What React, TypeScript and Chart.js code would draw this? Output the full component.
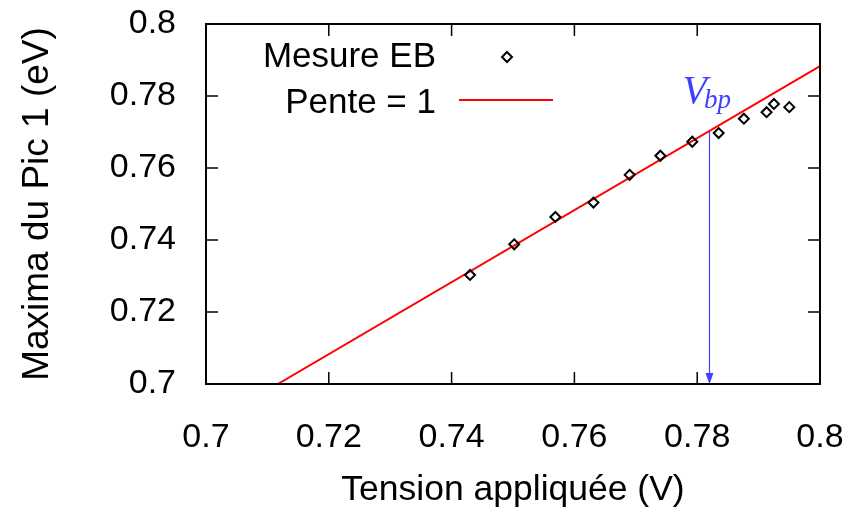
import React, { useEffect, useRef } from 'react';
import { Chart, registerables } from 'chart.js';

Chart.register(...registerables);

// ---- data ----
const measureX = [0.743, 0.7502, 0.7569, 0.7631, 0.769, 0.774, 0.7792, 0.7835, 0.7876, 0.7913, 0.7925, 0.795];
const measureY = [0.7303, 0.7388, 0.7464, 0.7504, 0.7581, 0.7634, 0.7673, 0.7697, 0.7737, 0.7755, 0.7778, 0.7769];
const fitX = [0.7117, 0.8];
const fitY = [0.7, 0.7883];
const vbpX = [0.782, 0.782];
const vbpY = [0.7703, 0.7];
const xTicks = [0.7, 0.72, 0.74, 0.76, 0.78, 0.8];
const xTickLabels = ['0.7', '0.72', '0.74', '0.76', '0.78', '0.8'];
const yTicks = [0.7, 0.72, 0.74, 0.76, 0.78, 0.8];
const yTickLabels = ['0.7', '0.72', '0.74', '0.76', '0.78', '0.8'];
const seriesLabels = ['Mesure EB', 'Pente = 1'];
const xTitle = 'Tension appliquée (V)';
const yTitle = 'Maxima du Pic 1 (eV)';
const vbpMain = 'V';
const vbpSub = 'bp';

const FONT = '"Liberation Sans", Arial, sans-serif';
const BLUE = '#4040ff';
const RED = '#ff0000';

function drawDiamond(ctx: CanvasRenderingContext2D, x: number, y: number, r: number) {
  ctx.beginPath();
  ctx.moveTo(x, y - r);
  ctx.lineTo(x + r, y);
  ctx.lineTo(x, y + r);
  ctx.lineTo(x - r, y);
  ctx.closePath();
  ctx.stroke();
}

const framePlugin = {
  id: 'frame',
  afterDatasetsDraw(chart: any) {
    const { ctx, chartArea: a, scales } = chart;
    const xs = scales.x;
    const ys = scales.y;
    ctx.save();
    ctx.strokeStyle = '#000';
    ctx.lineWidth = 1.5;
    const tl = 12;
    ctx.beginPath();
    xTicks.forEach((v) => {
      const px = xs.getPixelForValue(v);
      ctx.moveTo(px, a.bottom);
      ctx.lineTo(px, a.bottom - tl);
      ctx.moveTo(px, a.top);
      ctx.lineTo(px, a.top + tl);
    });
    yTicks.forEach((v) => {
      const py = ys.getPixelForValue(v);
      ctx.moveTo(a.left, py);
      ctx.lineTo(a.left + tl, py);
      ctx.moveTo(a.right, py);
      ctx.lineTo(a.right - tl, py);
    });
    ctx.stroke();
    ctx.lineWidth = 2;
    ctx.strokeRect(a.left, a.top, a.right - a.left, a.bottom - a.top);

    // arrow head
    const ax = xs.getPixelForValue(vbpX[1]);
    const ay = ys.getPixelForValue(vbpY[1]);
    ctx.fillStyle = BLUE;
    ctx.beginPath();
    ctx.moveTo(ax, ay);
    ctx.lineTo(ax - 4, ay - 11);
    ctx.lineTo(ax + 4, ay - 11);
    ctx.closePath();
    ctx.fill();

    // V_bp label
    const topY = ys.getPixelForValue(vbpY[0]);
    ctx.textAlign = 'left';
    ctx.textBaseline = 'alphabetic';
    ctx.font = 'italic 40px "Liberation Serif", serif';
    const vx = ax - 27;
    ctx.fillText(vbpMain, vx, topY - 28);
    const vw = ctx.measureText(vbpMain).width;
    ctx.font = 'italic 27px "Liberation Serif", serif';
    ctx.fillText(vbpSub, vx + vw - 3, topY - 23);

    // legend
    ctx.font = `35px ${FONT}`;
    ctx.fillStyle = '#000';
    ctx.textAlign = 'right';
    ctx.textBaseline = 'middle';
    const tx = a.left + 230;
    const y1 = a.top + 33;
    const y2 = a.top + 79;
    ctx.fillText(seriesLabels[0], tx, y1);
    ctx.fillText(seriesLabels[1], tx, y2);
    ctx.strokeStyle = '#000';
    ctx.lineWidth = 2;
    drawDiamond(ctx, a.left + 301, y1, 5);
    ctx.strokeStyle = RED;
    ctx.lineWidth = 2;
    ctx.beginPath();
    ctx.moveTo(a.left + 253, y2 - 3);
    ctx.lineTo(a.left + 347, y2 - 3);
    ctx.stroke();
    ctx.restore();
  },
};

function zeroPad(s: any) {
  s.paddingLeft = 0;
  s.paddingRight = 0;
  s.paddingTop = 0;
  s.paddingBottom = 0;
}

export default function App() {
  const ref = useRef<HTMLCanvasElement | null>(null);
  useEffect(() => {
    document.body.style.margin = '0';
    const canvas = ref.current;
    if (!canvas) return;
    const chart = new Chart(canvas, {
      type: 'scatter',
      data: {
        datasets: [
          {
            label: seriesLabels[0],
            data: measureX.map((x, i) => ({ x, y: measureY[i] })),
            pointStyle: 'rectRot',
            pointRadius: 5,
            pointBorderWidth: 2,
            borderColor: '#000',
            backgroundColor: 'rgba(0,0,0,0)',
            showLine: false,
            order: 1,
          },
          {
            label: seriesLabels[1],
            data: fitX.map((x, i) => ({ x, y: fitY[i] })),
            showLine: true,
            borderColor: RED,
            borderWidth: 2,
            pointRadius: 0,
            order: 2,
          },
          {
            label: 'Vbp',
            data: vbpX.map((x, i) => ({ x, y: vbpY[i] })),
            showLine: true,
            borderColor: BLUE,
            borderWidth: 1.2,
            pointRadius: 0,
            order: 3,
          },
        ],
      },
      options: {
        animation: false,
        responsive: false,
        devicePixelRatio: 1,
        layout: { padding: { top: 24, right: 28, left: 0, bottom: 0 } },
        plugins: { legend: { display: false }, tooltip: { enabled: false } },
        scales: {
          x: {
            type: 'linear',
            min: 0.7,
            max: 0.8,
            grid: { display: false },
            border: { display: false },
            afterBuildTicks: (s: any) => {
              s.ticks = xTicks.map((v) => ({ value: v }));
            },
            afterFit: (s: any) => {
              s.height = 130;
              zeroPad(s);
            },
            ticks: {
              color: '#000',
              font: { family: FONT, size: 34 },
              padding: 25,
              maxRotation: 0,
              autoSkip: false,
              callback: (_v: any, i: number) => xTickLabels[i],
            },
            title: {
              display: true,
              text: xTitle,
              color: '#000',
              font: { family: FONT, size: 35.5 },
              padding: { top: 0, bottom: 2 },
            },
          },
          y: {
            type: 'linear',
            min: 0.7,
            max: 0.8,
            grid: { display: false },
            border: { display: false },
            afterBuildTicks: (s: any) => {
              s.ticks = yTicks.map((v) => ({ value: v }));
            },
            afterFit: (s: any) => {
              s.width = 206;
              zeroPad(s);
            },
            ticks: {
              color: '#000',
              font: { family: FONT, size: 34 },
              padding: 22,
              autoSkip: false,
              callback: (_v: any, i: number) => yTickLabels[i],
            },
            title: {
              display: true,
              text: yTitle,
              color: '#000',
              font: { family: FONT, size: 37 },
              padding: { top: 16, bottom: 0 },
            },
          },
        },
      },
      plugins: [framePlugin],
    } as any);
    return () => chart.destroy();
  }, []);
  return (
    <div style={{ width: 848, height: 514, background: '#fff' }}>
      <canvas ref={ref} width={848} height={514} style={{ display: 'block' }} />
    </div>
  );
}
